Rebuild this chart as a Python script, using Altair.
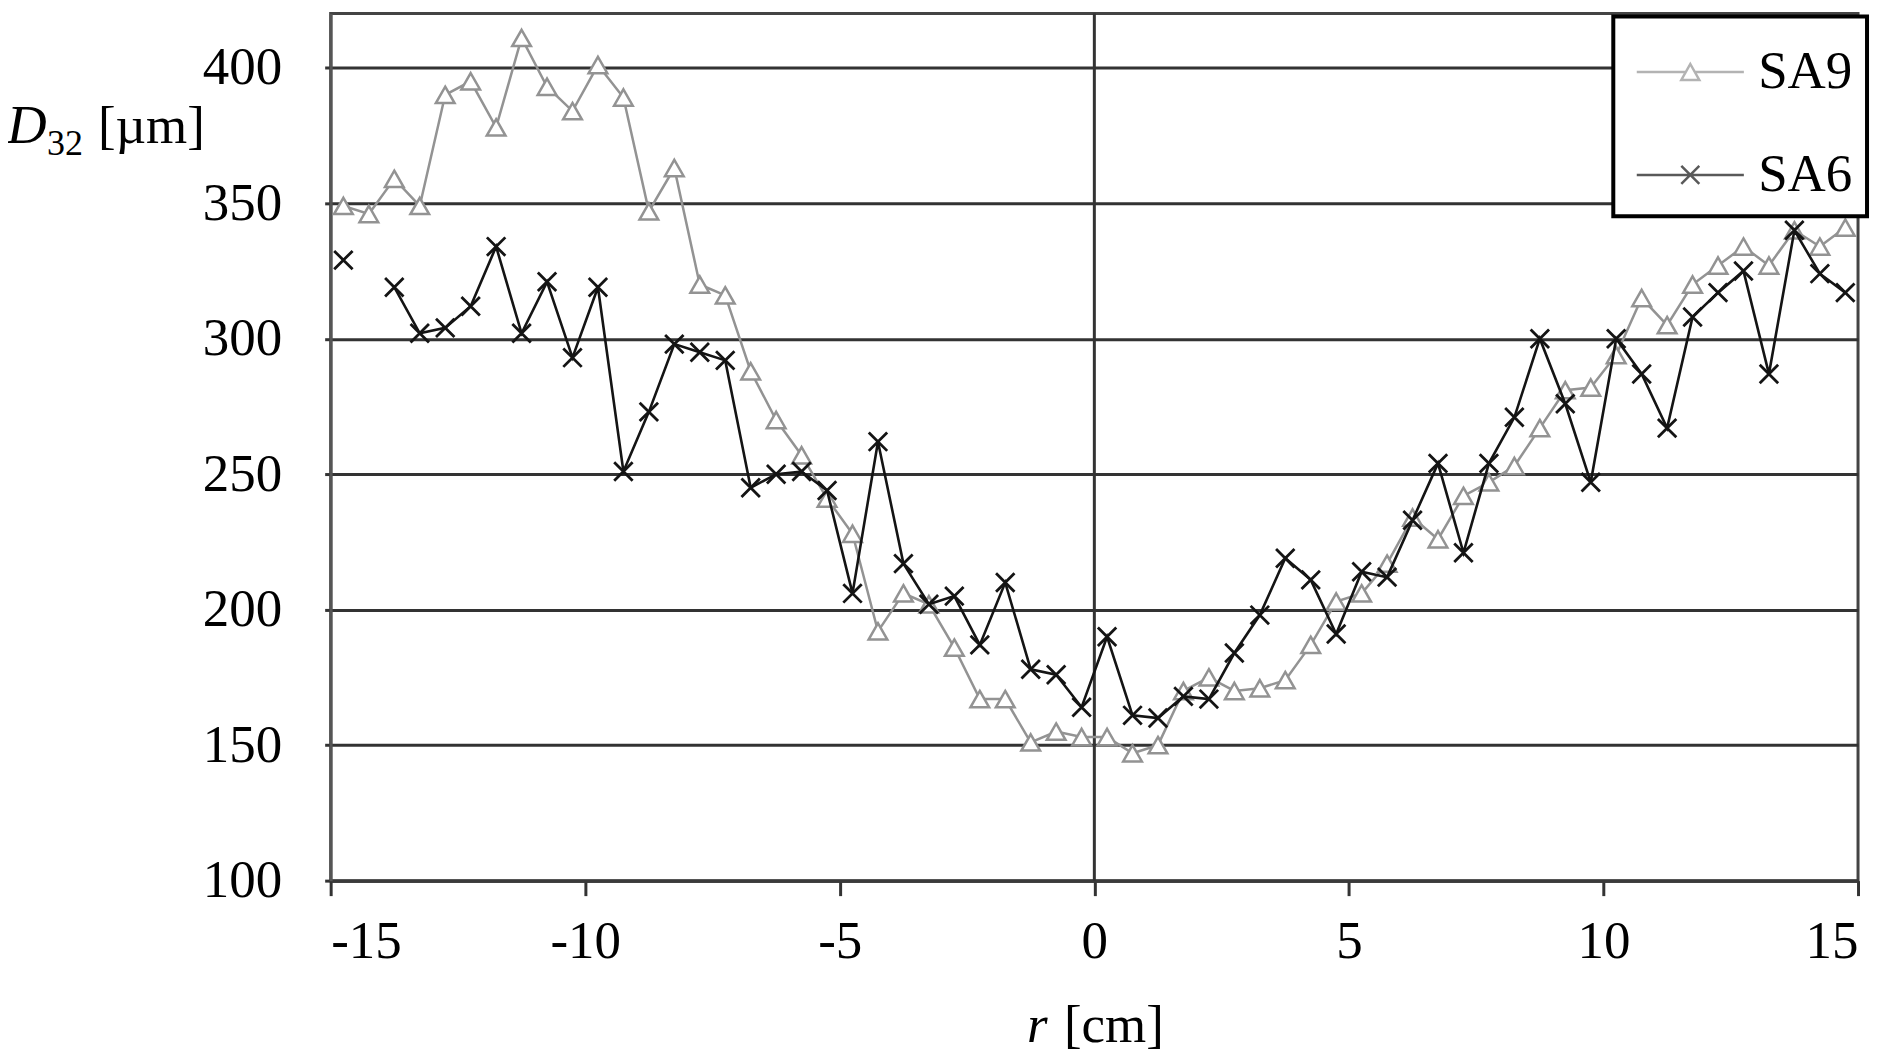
import altair as alt
import pandas as pd

# radial positions [cm]
r = [-14.75, -14.25, -13.75, -13.25, -12.75, -12.25, -11.75, -11.25, -10.75, -10.25,
     -9.75, -9.25, -8.75, -8.25, -7.75, -7.25, -6.75, -6.25, -5.75, -5.25,
     -4.75, -4.25, -3.75, -3.25, -2.75, -2.25, -1.75, -1.25, -0.75, -0.25,
     0.25, 0.75, 1.25, 1.75, 2.25, 2.75, 3.25, 3.75, 4.25, 4.75,
     5.25, 5.75, 6.25, 6.75, 7.25, 7.75, 8.25, 8.75, 9.25, 9.75,
     10.25, 10.75, 11.25, 11.75, 12.25, 12.75, 13.25, 13.75, 14.25, 14.75]

sa9 = [349, 346, 359, 349, 390, 395, 378, 411, 393, 384,
       401, 389, 347, 363, 320, 316, 288, 270, 257, 241,
       228, 192, 206, 202, 186, 167, 167, 151, 155, 153,
       153, 147, 150, 170, 175, 170, 171, 174, 187, 203,
       206, 217, 234, 226, 242, 247, 253, 267, 281, 282,
       294, 315, 305, 320, 327, 334, 327, 340, 334, 341]

sa6 = [329, None, 319, 302, 304, 312, 334, 302, 321, 293,
       319, 251, 273, 298, 295, 292, 245, 250, 251, 244,
       206, 262, 217, 202, 205, 187, 210, 178, 176, 164,
       190, 161, 160, 168, 167, 184, 198, 219, 211, 191,
       214, 212, 233, 254, 221, 254, 271, 300, 276, 247,
       300, 287, 267, 308, 317, 325, 287, 340, 324, 317]

series_names = ["SA9", "SA6"]
series_colors = ["#939393", "#141414"]
y_ticks = [100, 150, 200, 250, 300, 350, 400]
x_ticks = [-15, -10, -5, 0, 5, 10, 15]

FONT = "Liberation Serif"

df9 = pd.DataFrame({"r": r, "D": sa9})
df6 = pd.DataFrame({"r": r, "D": pd.array(sa6, dtype="Float64")}).astype({"D": float})

xs = alt.Scale(domain=[-15, 15], nice=False, zero=False)
ys = alt.Scale(domain=[100, 420], nice=False, zero=False)

xenc = alt.X("r:Q", scale=xs,
             axis=alt.Axis(values=x_ticks, title=None, grid=False,
                           labelExpr="'' + datum.value",
                           labelFontSize=53, labelFont=FONT, labelColor="black",
                           tickSize=15, tickColor="#333", tickWidth=3,
                           domainColor="#3a3a3a", domainWidth=3, labelPadding=20))
yenc = alt.Y("D:Q", scale=ys,
             axis=alt.Axis(values=y_ticks, title=None, grid=True, gridColor="#333",
                           gridWidth=3, labelFontSize=53, labelFont=FONT,
                           labelColor="black", tickSize=6, tickColor="#333", tickWidth=3,
                           domainColor="#555", domainWidth=3, labelPadding=43))

tri = "M0,-0.875L1,0.875L-1,0.875Z"
cross = "M-1,-1L1,1M1,-1L-1,1"

line9 = alt.Chart(df9).mark_line(color=series_colors[0], strokeWidth=2.5).encode(x=xenc, y=yenc)
pts9 = alt.Chart(df9).mark_point(shape=tri, size=350, filled=False, fill="white",
                                 stroke=series_colors[0], strokeWidth=2.5, opacity=1).encode(x="r:Q", y="D:Q")
line6 = alt.Chart(df6).mark_line(color=series_colors[1], strokeWidth=2.6,
                                 invalid="break-paths-show-domains").encode(x="r:Q", y="D:Q")
pts6 = alt.Chart(df6).mark_point(shape=cross, size=340, filled=False,
                                 stroke=series_colors[1], strokeWidth=2.8, opacity=1).encode(x="r:Q", y="D:Q")

zero_rule = alt.Chart(pd.DataFrame({"r": [0]})).mark_rule(color="#333", strokeWidth=3).encode(x="r:Q")

# legend (built from an empty layer so only the legend is drawn)
leg9 = "M-0.8,0L0.42,0M0.66,0L1.88,0M0.54,-0.2L0.765,0.2L0.315,0.2Z"
leg6 = "M-0.8,0L1.88,0M0.315,-0.225L0.765,0.225M0.765,-0.225L0.315,0.225"
leg_df = pd.DataFrame({"series": series_names, "r": [0, 0], "D": [0, 0]})
legend_layer = alt.Chart(leg_df).transform_filter("datum.D > 1000").mark_point(
    filled=False, size=6400).encode(
    x="r:Q", y="D:Q",
    color=alt.Color("series:N", scale=alt.Scale(domain=series_names, range=series_colors),
                    legend=alt.Legend(title=None, orient="none", legendX=1284, legendY=3)),
    shape=alt.Shape("series:N", scale=alt.Scale(domain=series_names, range=[leg9, leg6]),
                    legend=alt.Legend(title=None, orient="none", legendX=1284, legendY=3)),
)

def txt(s, x, y, size, style="normal", align="left"):
    return alt.Chart(pd.DataFrame({"t": [s]})).mark_text(
        font=FONT, fontSize=size, fontStyle=style, align=align, baseline="alphabetic",
        color="black").encode(text="t:N", x=alt.value(x), y=alt.value(y))

texts = [
    txt("D", -324, 130, 55, "italic"),
    txt("32", -284, 142, 36),
    txt("[µm]", -233, 130, 53),
    txt("r", 697, 1030, 53, "italic"),
    txt("[cm]", 734, 1030, 53),
]

chart = alt.layer(zero_rule, line9, pts9, line6, pts6, legend_layer, *texts).properties(
    width=1529, height=868,
    autosize=alt.AutoSizeParams(type="none"),
    padding={"left": 323, "top": 5, "right": 30, "bottom": 175},
).configure_view(stroke="#444", strokeWidth=3).configure_legend(
    fillColor="white", strokeColor="black", strokeWidth=4, padding=14,
    labelFont=FONT, labelFontSize=53, labelColor="black", labelOffset=48,
    rowPadding=34, symbolStrokeWidth=2.5, symbolSize=6400, labelBaseline="middle",
)

chart.save("out.html", embed_options={"renderer": "svg", "actions": False})
